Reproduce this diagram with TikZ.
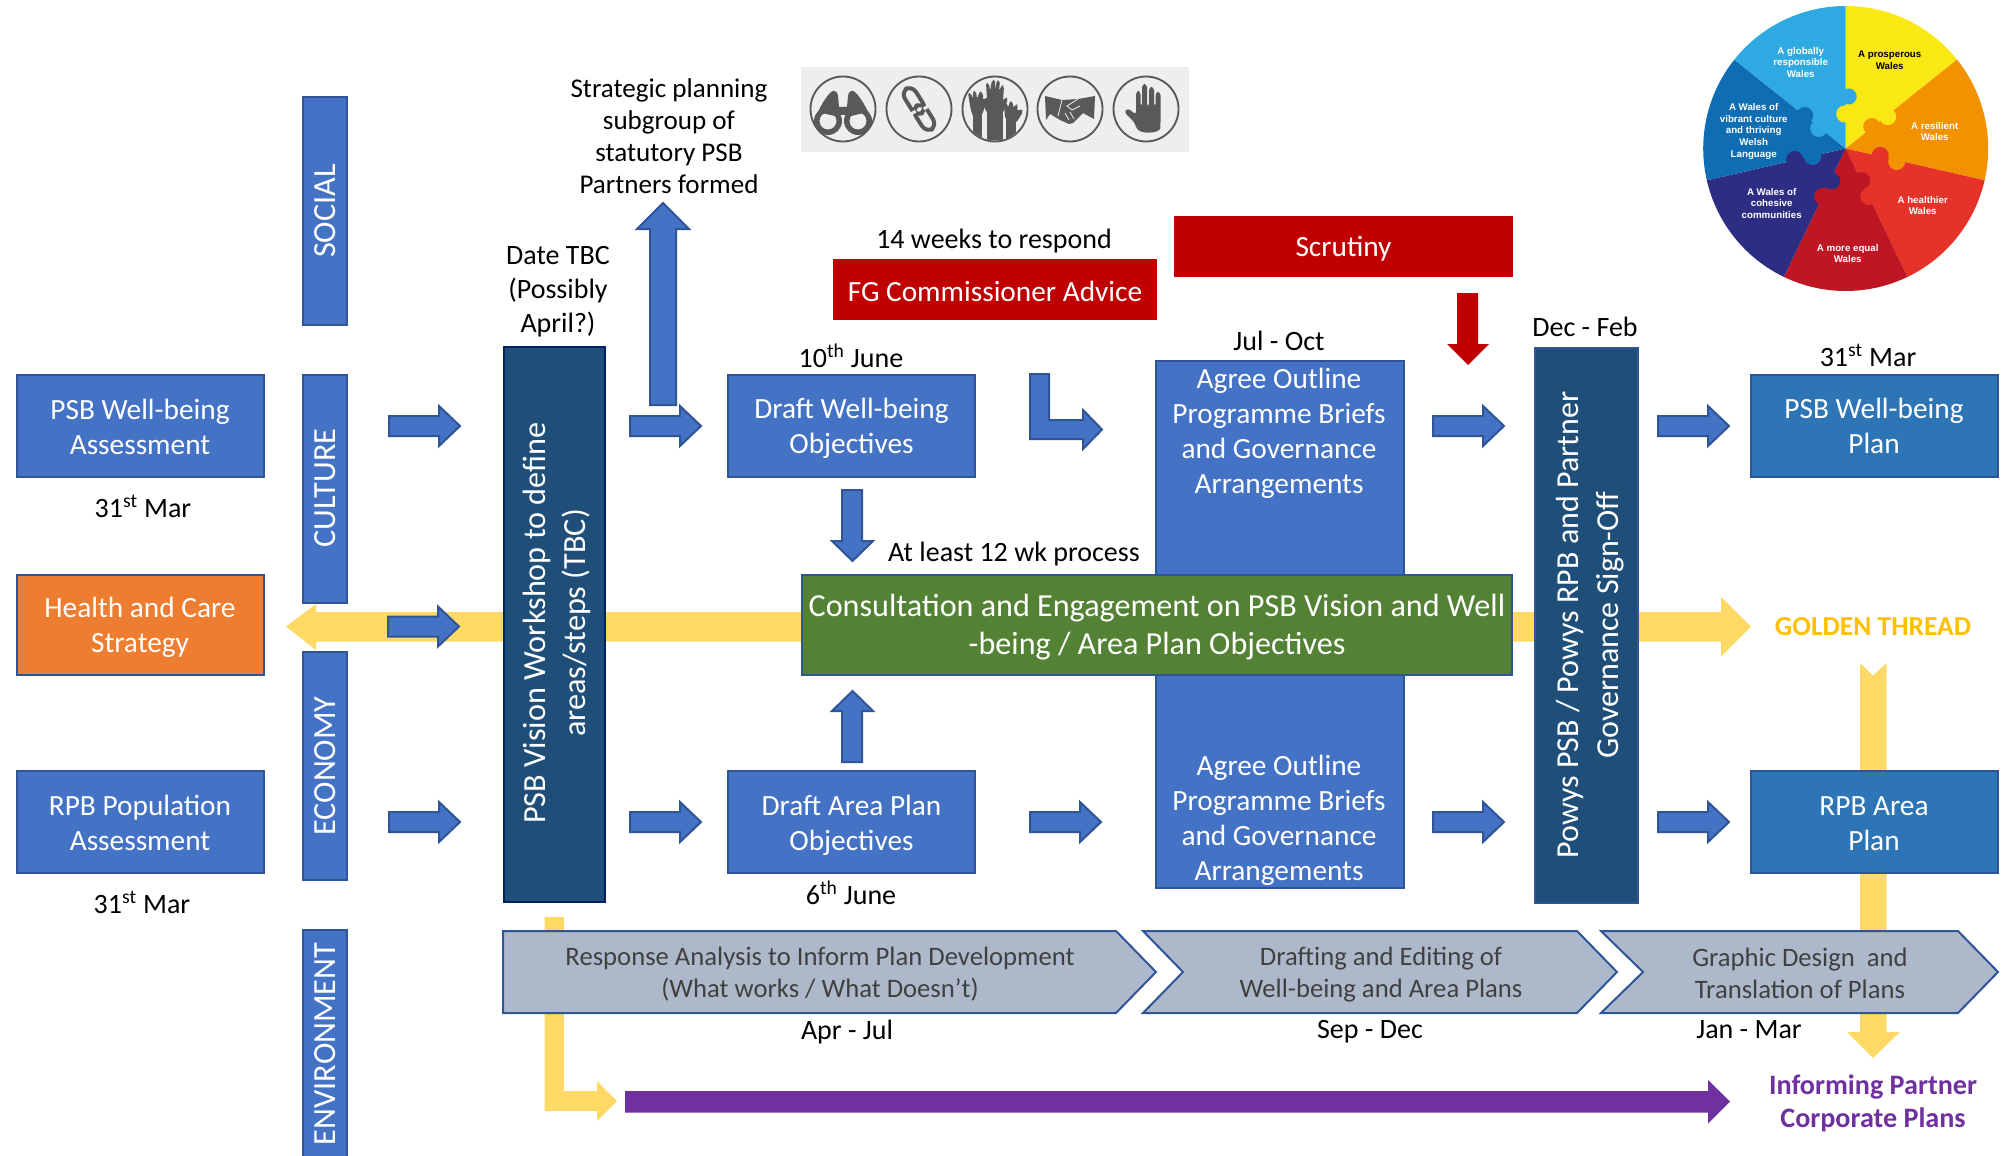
\documentclass[tikz,border=0pt]{standalone}
\usepackage{fontspec}
\setmainfont{Carlito}
\newfontfamily\wheelfont{Liberation Sans}
\usetikzlibrary{calc}
\definecolor{bluefill}{HTML}{4472C4}
\definecolor{blueline}{HTML}{2F5597}
\definecolor{darkfill}{HTML}{1F4E79}
\definecolor{navyline}{HTML}{002060}
\definecolor{midblue}{HTML}{2E75B6}
\definecolor{goldfill}{HTML}{FFD966}
\definecolor{goldtext}{HTML}{FFC000}
\definecolor{greenfill}{HTML}{548235}
\definecolor{orangefill}{HTML}{ED7D31}
\definecolor{redfill}{HTML}{C00000}
\definecolor{greyfill}{HTML}{ADB9CA}
\definecolor{greytext}{HTML}{404040}
\definecolor{purplefill}{HTML}{7030A0}
\definecolor{iconbg}{HTML}{EEEEEE}
\definecolor{icon}{HTML}{58595B}
\definecolor{wyellow}{HTML}{F9E814}
\definecolor{worange}{HTML}{F39200}
\definecolor{wred}{HTML}{E6332A}
\definecolor{wdark}{HTML}{BE1622}
\definecolor{wnavy}{HTML}{2D2E83}
\definecolor{wblue}{HTML}{0F6DB3}
\definecolor{wlight}{HTML}{2FA9E2}
\newcommand{\mainsize}{\fontsize{22}{26.2}\selectfont}
\newcommand{\smallsize}{\fontsize{21}{25.5}\selectfont}
\newcommand{\bigsize}{\fontsize{24.2}{29.5}\selectfont}
\tikzset{
  x=0.75pt,y=-0.75pt,
  boxbase/.style={draw=blueline,line width=1.5pt,inner sep=0pt,text=white,align=center},
  bluebox/.style={boxbase,fill=bluefill,minimum width=185.25pt,minimum height=76.5pt},
  barbox/.style={fill=bluefill,draw=blueline,line width=1.5pt},
  plain/.style={inner sep=0pt,align=center,font=\smallsize,text=black},
  intext/.style={inner sep=0pt,align=center,font=\mainsize,text=white},
  arrowblue/.style={fill=bluefill,draw=blueline,line width=1.5pt,line join=miter},
  arrowred/.style={fill=redfill},
  gold/.style={fill=goldfill},
  chev/.style={fill=greyfill,draw=blueline,line width=1.5pt,line join=miter},
  chevtext/.style={inner sep=0pt,align=center,font=\fontsize{20}{24}\selectfont,text=greytext},
  wtext/.style={inner sep=0pt,align=center,text=white,font=\wheelfont\bfseries\fontsize{7.3}{8.8}\selectfont},
  ra/.pic={\path[arrowblue] (0,-10)--(50,-10)--(50,-20)--(71,0)--(50,20)--(50,10)--(0,10)--cycle;},
}
\begin{document}
\begin{tikzpicture}
\useasboundingbox (0,0) rectangle (2003,1156);
% golden thread
\fill[gold] (286,626.5)--(316,604)--(316,612)--(1721,612)--(1721,597)--(1751,626.5)--(1721,656.5)--(1721,641.5)--(316,641.5)--(316,650)--cycle;
\fill[gold] (1860,663)--(1873,675.5)--(1886.5,663)--(1886.5,1032)--(1900,1032)--(1873,1058)--(1847,1032)--(1860,1032)--cycle;
\fill[gold] (544.5,917)--(564,917)--(564,1091)--(597,1091)--(597,1081)--(617,1101)--(597,1121)--(597,1111)--(544.5,1111)--cycle;
% purple arrow
\fill[purplefill] (625,1091)--(1708,1091)--(1708,1080)--(1730,1101.5)--(1708,1123.5)--(1708,1112.5)--(625,1112.5)--cycle;

% theme bars
\path[barbox] (303,97) rectangle (347,325);
\path[barbox] (303,375) rectangle (347,603);
\path[barbox] (303,652) rectangle (347,880);
\path[barbox] (303,930) rectangle (347,1160);
\node[intext,rotate=90,font=\bigsize] (social) at (325.5,211) {SOCIAL};
\node[intext,rotate=90,font=\bigsize] (culture) at (325.5,488) {CULTURE};
\node[intext,rotate=90,font=\bigsize] (economy) at (325.5,766) {ECONOMY};
\node[intext,rotate=90,font=\bigsize] (environment) at (325.5,1044) {ENVIRONMENT};

% left boxes
\node[bluebox] (psbwa) at (140,426) {};
\node[intext] (psbwat) at (140,426.5) {PSB Well-being\\Assessment};
\node[bluebox,fill=orangefill,minimum height=75pt] (hcs) at (140,625) {};
\node[intext] (hcst) at (140,627.5) {Health and Care\\Strategy};
\node[bluebox] (rpbpa) at (140,822) {};
\node[intext] (rpbpat) at (140,823) {RPB Population\\Assessment};
\node[plain] (d1) at (143,506.5) {31\textsuperscript{st} Mar};
\node[plain] (d2) at (142,902.5) {31\textsuperscript{st} Mar};

% vision bar
\node[boxbase,draw=navyline,fill=darkfill,minimum width=75.75pt,minimum height=416.25pt] (vision) at (554.5,624) {};
\node[intext,rotate=90,font=\bigsize] (visiont) at (557,623) {PSB Vision Workshop to define\\areas/steps (TBC)};
\node[plain] (datetbc) at (558,291.5) {Date TBC\\(Possibly\\April?)};
\node[plain,font=\fontsize{20.3}{24}\selectfont] (strategic) at (669,136.5) {Strategic planning\\subgroup of\\statutory PSB\\Partners formed};

% icons
\fill[iconbg] (801,67) rectangle (1189,152);
\foreach \cx in {843,919,995,1070,1146} \draw[icon,line width=1.4pt] (\cx,109) circle (32.5);
% binoculars
\begin{scope}[shift={(843,109)}]
\fill[icon,even odd rule] (-15,12) circle (14) (-15,12) circle (8.5) (15,12) circle (14) (15,12) circle (8.5);
\fill[icon] (-25,3)..controls (-20,-8) and (-15,-14)..(-12,-17)..controls (-9,-20) and (-5,-17)..(-5,-13)--(-4,-2)--(4,-2)--(5,-13)..controls (5,-17) and (9,-20)..(12,-17)..controls (15,-14) and (20,-8)..(25,3)--(8,7)--(3,6)--(-3,6)--(-8,7)--cycle;
\fill[iconbg] (0,7) circle (1.2);
\end{scope}
% chain
\begin{scope}[shift={(919,109)},rotate=32]
\draw[icon,line width=3pt,rounded corners=6pt] (-6.5,-24) rectangle (6.5,5);
\draw[icon,line width=3pt,rounded corners=6pt] (-6.5,-4) rectangle (6.5,24);
\fill[iconbg] (-9,-1.5) rectangle (-4,1.5);
\fill[iconbg] (4,1) rectangle (9,4);
\end{scope}
% hands
\begin{scope}[shift={(995,109)}]
\clip (0,0) circle (31.5);
\fill[icon] (-8,-13) rectangle (8,40);
\fill[icon,rounded corners=1.5pt] (-8,-10)--(-9,-26)--(-6,-26)--(-5,-18)--(-3,-29)--(0,-29)--(0,-18)--(2,-29)--(5,-28)--(4,-18)--(7,-24)--(9,-23)--(8,-8)--(11,-12)--(13,-10)--(8,4)--(-8,4)--(-14,-9)--(-11,-11)--cycle;
\fill[icon] (-22,-8) rectangle (-13,32);
\fill[icon,rounded corners=1.5pt] (-24,2)--(-27,-16)--(-24,-16)--(-22,-10)--(-22,-18)--(-19,-18)--(-18,-10)--(-15,-18)--(-12,-16)--(-12,-8)--(-9,-6)--(-13,6)--(-20,12)--cycle;
\fill[icon] (11,8) rectangle (21,32);
\fill[icon,rounded corners=1.5pt] (10,10)--(9,-5)--(12,-6)--(13,-1)--(15,-8)--(18,-7)--(18,-1)--(21,-5)--(23,-4)--(22,2)--(27,0)--(28,3)--(21,14)--cycle;
\end{scope}
% handshake
\begin{scope}[shift={(1070,109)}]
\fill[icon] (-25,-13)--(-8,-9)--(8,-10)--(25,-13)--(24,10)--(13,4)--(3,14)--(-1,15)--(-10,11)--(-20,5)--(-24,11)--cycle;
\draw[iconbg,line width=.6pt] (-8,-9)--(-12,7) (8,-10)--(-3,-3)--(2,1)--(10,-3) (-5,4)--(-1,11) (0,3)--(4,10);
\end{scope}
% hand
\begin{scope}[shift={(1146,109)}]
\fill[icon,rounded corners=2.5pt] (-10,-2)--(-10,-18)--(-5.5,-18)--(-5.5,-2)--(-4,-2)--(-4,-25)--(1,-25)--(1,-2)--(3,-2)--(3,-22)--(8,-22)--(8,-2)--(9.5,-2)--(9.5,-17)--(14.5,-17)--(14.5,16)..controls (14,24) and (-8,27)..(-11,14)--(-22,3)--(-18,-1)--(-10,6)--cycle;
\end{scope}

% wheel
\begin{scope}[shift={(1845.7,148.5)}]
\fill[wyellow] (0,0)--(0,-142.5)arc[start angle=90,end angle=38.6,radius=106.875pt]--cycle;
\fill[worange] (0,0)--(38.6:106.875pt)arc[start angle=38.6,end angle=-12.9,radius=106.875pt]--cycle;
\fill[wred] (0,0)--(-12.9:106.875pt)arc[start angle=-12.9,end angle=-64.3,radius=106.875pt]--cycle;
\fill[wdark] (0,0)--(-64.3:106.875pt)arc[start angle=-64.3,end angle=-115.7,radius=106.875pt]--cycle;
\fill[wnavy] (0,0)--(-115.7:106.875pt)arc[start angle=-115.7,end angle=-167.1,radius=106.875pt]--cycle;
\fill[wblue] (0,0)--(-167.1:106.875pt)arc[start angle=-167.1,end angle=-218.6,radius=106.875pt]--cycle;
\fill[wlight] (0,0)--(141.4:106.875pt)arc[start angle=141.4,end angle=90,radius=106.875pt]--cycle;
% puzzle knobs
\fill[wlight] (3,-52) circle (8);
\fill[wyellow] (-1,-34.5) circle (8.5);
\fill[worange] (26,-22) circle (8.5);
\fill[wyellow] (42,-32) circle (8.5);
\fill[wred] (34.5,7) circle (8.5);
\fill[worange] (51,13) circle (8.5);
\fill[wdark] (16,32) circle (8.5);
\fill[wred] (23,48) circle (8.5);
\fill[wnavy] (-14,32.5) circle (8.5);
\fill[wdark] (-23,48) circle (8.5);
\fill[wblue] (-33,8) circle (8.5);
\fill[wnavy] (-51,11) circle (8.5);
\fill[wlight] (-27,-20) circle (8.5);
\fill[wblue] (-41,-33) circle (8.5);
\node[wtext] (w1) at (-45,-86) {A globally\\responsible\\Wales};
\node[wtext,text=black] (w2) at (44,-88) {A prosperous\\Wales};
\node[wtext] (w3) at (89,-17) {A resilient\\Wales};
\node[wtext] (w4) at (77,57) {A healthier\\Wales};
\node[wtext] (w5) at (2,105) {A more equal\\Wales};
\node[wtext] (w6) at (-74,55) {A Wales of\\cohesive\\communities};
\node[wtext] (w7) at (-92,-17) {A Wales of\\vibrant culture\\and thriving\\Welsh\\Language};
\end{scope}

% red boxes
\node[fill=redfill,minimum width=243pt,minimum height=45.75pt,inner sep=0pt] (fg) at (995,289.5) {};
\node[intext] (fgt) at (995,291) {FG Commissioner Advice};
\node[fill=redfill,minimum width=254.25pt,minimum height=45.75pt,inner sep=0pt] (scrutiny) at (1343.5,246.5) {};
\node[intext] (scrutinyt) at (1343.5,249) {Scrutiny};
\node[plain] (weeks) at (994,241.5) {14 weeks to respond};
\fill[arrowred] (1457,293)--(1478,293)--(1478,344)--(1489,344)--(1468,365)--(1447,344)--(1457,344)--cycle;

% mid column
\node[plain] (d3) at (851,355.5) {10\textsuperscript{th} June};
\node[bluebox] (dwb) at (851.5,426) {};
\node[intext] (dwbt) at (851.5,428.5) {Draft Well-being\\Objectives};
\node[bluebox] (dap) at (851.5,822) {};
\node[intext] (dapt) at (851.5,825.5) {Draft Area Plan\\Objectives};
\node[plain] (d4) at (851,893) {6\textsuperscript{th} June};
\path[arrowblue] (842,490)--(862,490)--(862,541)--(873,541)--(852.5,561)--(832,541)--(842,541)--cycle;
\path[arrowblue] (842,762)--(862,762)--(862,711)--(873,711)--(852.5,691)--(832,711)--(842,711)--cycle;
\path[arrowblue] (650,405)--(676,405)--(676,229)--(689,229)--(663,203)--(637,229)--(650,229)--cycle;
\path[arrowblue] (1030,374)--(1049,374)--(1049,420)--(1083,420)--(1083,410)--(1102,429.5)--(1083,449)--(1083,439)--(1030,439)--cycle;
\node[plain] (wk12) at (1014,554) {At least 12 wk process};

% agree box
\path[boxbase,fill=bluefill] (1156,361) rectangle (1404,888);
\node[intext] (agree1) at (1279,433) {Agree Outline\\Programme Briefs\\and Governance\\Arrangements};
\node[intext] (agree2) at (1279,820.5) {Agree Outline\\Programme Briefs\\and Governance\\Arrangements};
\node[plain] (d5) at (1279,341) {Jul - Oct};

% green
\node[boxbase,fill=greenfill,minimum width=532.5pt,minimum height=75pt] (consult) at (1156.5,625) {};
\node[intext,font=\fontsize{24.1}{28.4}\selectfont] (consultt) at (1157,627.5) {Consultation and Engagement on PSB Vision and Well\\-being / Area Plan Objectives};

% powys bar
\node[boxbase,fill=darkfill,minimum width=77pt,minimum height=416pt] (powys) at (1586.5,625.5) {};
\node[intext,rotate=90,font=\fontsize{24}{29.5}\selectfont] (powyst) at (1590,625) {Powys PSB / Powys RPB and Partner\\Governance Sign-Off};
\node[plain] (d6) at (1585,327) {Dec - Feb};
\node[plain] (d7) at (1868,355) {31\textsuperscript{st} Mar};

% right boxes
\node[bluebox,fill=midblue] (psbp) at (1874,426) {};
\node[intext] (psbpt) at (1874,426) {PSB Well-being\\Plan};
\node[bluebox,fill=midblue] (rpbp) at (1874,822) {};
\node[intext] (rpbpt) at (1874,823.5) {RPB Area\\Plan};
\node[inner sep=0pt,font=\bfseries\fontsize{20.6}{24}\selectfont,text=goldtext] (golden) at (1873,627) {GOLDEN THREAD};
\node[inner sep=0pt,align=center,font=\bfseries\fontsize{21.1}{25}\selectfont,text=purplefill] (informing) at (1873,1103) {Informing Partner\\Corporate Plans};

% block arrows
\foreach \px/\py in {389/426,630/426,1433/426,1658/426,388/626.5,389/822,630/822,1030/822,1433/822,1658/822}
  \pic at (\px,\py) {ra};

% chevrons
\path[chev] (503,931)--(1116,931)--(1156,972)--(1116,1013)--(503,1013)--cycle;
\path[chev] (1143,931)--(1577,931)--(1617,972)--(1577,1013)--(1143,1013)--(1183,972)--cycle;
\path[chev] (1601,931)--(1958,931)--(1998,972)--(1958,1013)--(1601,1013)--(1643,972)--cycle;
\node[chevtext] (c1) at (820,974.5) {Response Analysis to Inform Plan Development\\(What works / What Doesn't)};
\node[chevtext] (c2) at (1381,974.5) {Drafting and Editing of\\Well-being and Area Plans};
\node[chevtext] (c3) at (1800,973) {Graphic Design\ \ and\\Translation of Plans};
\node[plain] (d8) at (847,1032) {Apr - Jul};
\node[plain] (d9) at (1370,1032) {Sep - Dec};
\node[plain] (d10) at (1749,1030) {Jan - Mar};
\end{tikzpicture}
\end{document}
